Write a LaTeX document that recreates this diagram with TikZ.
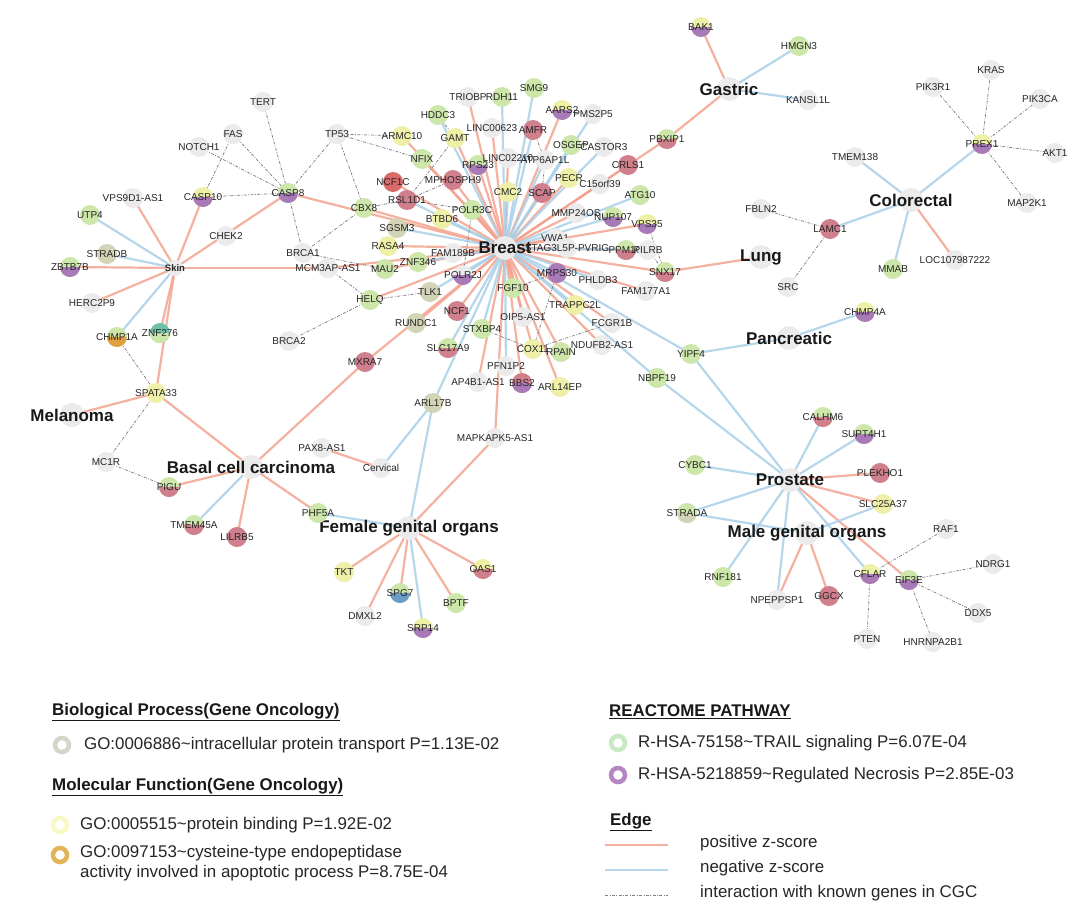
\documentclass[tikz,border=0pt]{standalone}
\usepackage{fontspec}
\setmainfont{Liberation Sans}
\usetikzlibrary{backgrounds}
\definecolor{cgr}{HTML}{EBEBEB}
\definecolor{cgn}{HTML}{CDE6AA}
\definecolor{cyl}{HTML}{EEF0A8}
\definecolor{crd}{HTML}{D07F8C}
\definecolor{crd2}{HTML}{DA6A68}
\definecolor{cpu}{HTML}{A97AB8}
\definecolor{col}{HTML}{D3D4B6}
\definecolor{ctl}{HTML}{6FC0A8}
\definecolor{cor}{HTML}{E0A040}
\definecolor{cbl}{HTML}{6A9CC8}
\definecolor{cpos}{HTML}{F3A490}
\definecolor{cneg}{HTML}{AAD0E8}
\definecolor{ringgr}{HTML}{D4D6C8}
\definecolor{ringyl}{HTML}{F8F8C6}
\definecolor{ringor}{HTML}{E2B458}
\definecolor{ringgn}{HTML}{C9E8C4}
\definecolor{ringpu}{HTML}{B586C4}
\newcommand{\mkg}[5]{\node[nd,#4,label={[lbl]center:#5}] (#1) at (#2,#3) {};}
\newcommand{\mkh}[4]{\node[hub,label={[hublbl]center:#4}] (#1) at (#2,#3) {};}
\tikzset{
  nd/.style={circle, minimum size=20pt, inner sep=0pt, draw=none},
  sgr/.style={fill=cgr}, sgn/.style={fill=cgn}, syl/.style={fill=cyl},
  srd/.style={fill=crd}, spu/.style={fill=cpu}, sol/.style={fill=col},
  tb/.style 2 args={fill=#1, path picture={\fill[#2] (path picture bounding box.west) rectangle (path picture bounding box.south east);}},
  lbl/.style={font=\fontsize{10}{10}\selectfont, text=black!85, inner sep=0pt},
  hub/.style={circle, minimum size=24pt, inner sep=0pt, fill=cgr},
  hublbl/.style={font=\fontsize{17}{17}\selectfont\bfseries, text=black!90, inner sep=0pt},
  posedge/.style={draw=cpos, line width=2.2pt, opacity=0.85},
  negedge/.style={draw=cneg, line width=2.2pt, opacity=0.85},
  cgc/.style={draw=black!50, line width=0.75pt, dash pattern=on 3pt off 1.5pt on 0.8pt off 1.5pt},
  legring/.style={circle, minimum size=14pt, inner sep=0pt, line width=4.5pt, fill=white},
  legtxt/.style={anchor=west, inner sep=0pt, font=\fontsize{16.9}{20}\selectfont, text=black!85, align=left},
  leghead/.style={anchor=west, inner sep=0pt, font=\fontsize{16.9}{20}\selectfont\bfseries, text=black!90},
}
\begin{document}
\begin{tikzpicture}[x=1pt,y=-1pt]
\useasboundingbox (0,0) rectangle (1080,916);
% ---------- hubs
\mkh{Breast}{505}{248}{Breast}
\node[nd,sgr,minimum size=16pt,label={[lbl,font=\fontsize{9.5}{9.5}\selectfont\bfseries]center:Skin}] (Skin) at (175,268) {};
\mkh{Melanoma}{72}{415}{Melanoma}
\mkh{Basal}{251}{467}{Basal cell carcinoma}
\mkh{Female}{409}{528}{Female genital organs}
\mkg{Cervical}{381}{468}{sgr}{Cervical}
\mkh{Gastric}{729}{89}{Gastric}
\mkh{Colorectal}{911}{200}{Colorectal}
\mkh{Lung}{761}{257}{Lung}
\mkh{Pancreatic}{789}{338}{Pancreatic}
\mkh{Prostate}{790}{480}{Prostate}
\mkh{Male}{807}{533}{Male genital organs}
% ---------- skin / left cluster
\mkg{TERT}{263}{102}{sgr}{TERT}
\mkg{FAS}{233}{134}{sgr}{FAS}
\mkg{NOTCH1}{199}{147}{sgr}{NOTCH1}
\mkg{TP53}{337}{134}{sgr}{TP53}
\mkg{CASP10}{203}{197}{tb={cyl}{cpu}}{CASP10}
\mkg{CASP8}{288}{193}{tb={cgn}{cpu}}{CASP8}
\mkg{VPS9D1AS1}{133}{198}{sgr}{VPS9D1-AS1}
\mkg{UTP4}{90}{215}{sgn}{UTP4}
\mkg{CHEK2}{226}{236}{sgr}{CHEK2}
\mkg{STRADB}{107}{254}{sol}{STRADB}
\mkg{ZBTB7B}{70}{267}{tb={cgn}{cpu}}{ZBTB7B}
\mkg{BRCA1}{303}{253}{sgr}{BRCA1}
\mkg{MCM3APAS1}{328}{268}{sgr}{MCM3AP-AS1}
\mkg{CBX8}{364}{208}{sgn}{CBX8}
\mkg{HERC2P9}{92}{303}{sgr}{HERC2P9}
\mkg{CHMP1A}{117}{337}{tb={cgn}{cor}}{CHMP1A}
\mkg{ZNF276}{160}{333}{tb={ctl}{cgn}}{ZNF276}
\mkg{BRCA2}{289}{341}{sgr}{BRCA2}
\mkg{SPATA33}{156}{393}{syl}{SPATA33}
\mkg{MC1R}{106}{462}{sgr}{MC1R}
\mkg{PIGU}{169}{487}{tb={cgn}{crd}}{PIGU}
\mkg{TMEM45A}{194}{525}{tb={cgn}{crd}}{TMEM45A}
\mkg{LILRB5}{237}{537}{srd}{LILRB5}
\mkg{PAX8AS1}{322}{448}{sgr}{PAX8-AS1}
\mkg{PHF5A}{318}{513}{sgn}{PHF5A}
\mkg{MXRA7}{365}{362}{srd}{MXRA7}
% ---------- breast cluster
\mkg{ARMC10}{402}{136}{syl}{ARMC10}
\mkg{GAMT}{455}{138}{syl}{GAMT}
\mkg{NFIX}{422}{159}{sgn}{NFIX}
\mkg{NCF1C}{393}{182}{fill=crd2}{NCF1C}
\mkg{MPHOSPH9}{453}{180}{srd}{MPHOSPH9}
\mkg{RPS23}{478}{165}{tb={cgn}{cpu}}{RPS23}
\mkg{RSL1D1}{407}{200}{srd}{RSL1D1}
\mkg{POLR3C}{472}{210}{sgn}{POLR3C}
\mkg{BTBD6}{442}{219}{syl}{BTBD6}
\mkg{SGSM3}{397}{228}{sol}{SGSM3}
\mkg{RASA4}{388}{246}{syl}{RASA4}
\mkg{FAM189B}{453}{253}{sgr}{FAM189B}
\mkg{ZNF346}{418}{262}{sgn}{ZNF346}
\mkg{MAU2}{385}{269}{sgn}{MAU2}
\mkg{POLR2J}{463}{275}{tb={cgr}{cpu}}{POLR2J}
\mkg{HELQ}{370}{300}{sgn}{HELQ}
\mkg{TLK1}{430}{292}{sol}{TLK1}
\mkg{NCF1}{457}{311}{srd}{NCF1}
\mkg{TRIOBP}{468}{97}{sgr}{TRIOBP}
\mkg{RDH11}{502}{97}{sgn}{RDH11}
\mkg{SMG9}{534}{88}{sgn}{SMG9}
\mkg{AARS2}{562}{110}{tb={cyl}{cpu}}{AARS2}
\mkg{PMS2P5}{593}{114}{sgr}{PMS2P5}
\mkg{HDDC3}{438}{115}{sgn}{HDDC3}
\mkg{LINC00623}{492}{128}{sgr}{LINC00623}
\mkg{AMFR}{533}{130}{srd}{AMFR}
\mkg{OSGEP}{571}{145}{sgn}{OSGEP}
\mkg{CASTOR3}{604}{147}{sgr}{CASTOR3}
\mkg{PBXIP1}{667}{139}{tb={cgn}{crd}}{PBXIP1}
\mkg{LINC02210}{508}{158}{sgr}{LINC02210}
\mkg{ATP6AP1L}{545}{160}{sgr}{ATP6AP1L}
\mkg{CRLS1}{628}{165}{srd}{CRLS1}
\mkg{PECR}{569}{178}{syl}{PECR}
\mkg{C15orf39}{600}{184}{sgr}{C15orf39}
\mkg{CMC2}{508}{192}{syl}{CMC2}
\mkg{SCAP}{542}{193}{srd}{SCAP}
\mkg{ATG10}{640}{195}{sgn}{ATG10}
\mkg{MMP24OS}{576}{213}{sgr}{MMP24OS}
\mkg{NUP107}{613}{217}{tb={cgn}{cpu}}{NUP107}
\mkg{VPS35}{647}{224}{tb={cyl}{cpu}}{VPS35}
\mkg{VWA1}{555}{238}{sgr}{VWA1}
\mkg{STAG}{567}{248}{sgr}{STAG3L5P-PVRIG}
\mkg{PPM1G}{626}{250}{tb={cgn}{crd}}{PPM1G}
\mkg{PILRB}{648}{250}{sgr}{PILRB}
\mkg{SNX17}{665}{272}{tb={cgn}{crd}}{SNX17}
\mkg{MRPS30}{557}{273}{spu}{MRPS30}
\mkg{PHLDB3}{598}{280}{sgr}{PHLDB3}
\mkg{FAM177A1}{646}{291}{sgr}{FAM177A1}
\mkg{FGF10}{513}{288}{sgn}{FGF10}
\mkg{TRAPPC2L}{575}{305}{syl}{TRAPPC2L}
\mkg{FCGR1B}{612}{323}{sgr}{FCGR1B}
\mkg{OIP5AS1}{523}{317}{sgr}{OIP5-AS1}
\mkg{RUNDC1}{416}{323}{sol}{RUNDC1}
\mkg{STXBP4}{482}{329}{sgn}{STXBP4}
\mkg{SLC17A9}{448}{348}{tb={cgn}{crd}}{SLC17A9}
\mkg{COX11}{533}{349}{syl}{COX11}
\mkg{RPAIN}{561}{352}{sgn}{RPAIN}
\mkg{NDUFB2AS1}{602}{345}{sgr}{NDUFB2-AS1}
\mkg{YIPF4}{691}{354}{sgn}{YIPF4}
\mkg{PFN1P2}{506}{366}{sgr}{PFN1P2}
\mkg{AP4B1AS1}{478}{382}{sgr}{AP4B1-AS1}
\mkg{BBS2}{522}{383}{tb={crd}{cpu}}{BBS2}
\mkg{ARL14EP}{560}{387}{syl}{ARL14EP}
\mkg{NBPF19}{657}{378}{sgn}{NBPF19}
\mkg{ARL17B}{433}{403}{sol}{ARL17B}
\mkg{MAPKAPK5AS1}{495}{438}{sgr}{MAPKAPK5-AS1}
% ---------- female
\mkg{TKT}{344}{572}{syl}{TKT}
\mkg{SPG7}{400}{593}{tb={cgn}{cbl}}{SPG7}
\mkg{DMXL2}{365}{616}{sgr}{DMXL2}
\mkg{SRP14}{423}{628}{tb={cyl}{cpu}}{SRP14}
\mkg{BPTF}{456}{603}{sgn}{BPTF}
\mkg{OAS1}{483}{569}{tb={cyl}{crd}}{OAS1}
% ---------- right side
\mkg{BAK1}{701}{27}{tb={cyl}{cpu}}{BAK1}
\mkg{HMGN3}{799}{46}{sgn}{HMGN3}
\mkg{KANSL1L}{808}{100}{sgr}{KANSL1L}
\mkg{KRAS}{991}{70}{sgr}{KRAS}
\mkg{PIK3R1}{933}{87}{sgr}{PIK3R1}
\mkg{PIK3CA}{1040}{99}{sgr}{PIK3CA}
\mkg{PREX1}{982}{144}{tb={cyl}{cpu}}{PREX1}
\mkg{AKT1}{1055}{153}{sgr}{AKT1}
\mkg{TMEM138}{855}{157}{sgr}{TMEM138}
\mkg{MAP2K1}{1027}{203}{sgr}{MAP2K1}
\mkg{FBLN2}{761}{209}{sgr}{FBLN2}
\mkg{LAMC1}{830}{229}{srd}{LAMC1}
\mkg{MMAB}{893}{269}{sgn}{MMAB}
\mkg{LOC}{955}{260}{sgr}{LOC107987222}
\mkg{SRC}{788}{287}{sgr}{SRC}
\mkg{CHMP4A}{865}{312}{tb={cyl}{cpu}}{CHMP4A}
\mkg{CALHM6}{823}{417}{tb={cgn}{crd}}{CALHM6}
\mkg{SUPT4H1}{864}{434}{tb={cgn}{cpu}}{SUPT4H1}
\mkg{CYBC1}{695}{465}{sgn}{CYBC1}
\mkg{PLEKHO1}{880}{473}{srd}{PLEKHO1}
\mkg{SLC25A37}{883}{504}{syl}{SLC25A37}
\mkg{STRADA}{687}{513}{tb={cgn}{col}}{STRADA}
\mkg{RAF1}{946}{529}{sgr}{RAF1}
\mkg{NDRG1}{993}{564}{sgr}{NDRG1}
\mkg{CFLAR}{870}{574}{tb={cyl}{cpu}}{CFLAR}
\mkg{EIF3E}{909}{580}{tb={cgn}{cpu}}{EIF3E}
\mkg{RNF181}{723}{577}{sgn}{RNF181}
\mkg{NPEPPSP1}{777}{600}{sgr}{NPEPPSP1}
\mkg{GGCX}{829}{596}{srd}{GGCX}
\mkg{DDX5}{978}{613}{sgr}{DDX5}
\mkg{PTEN}{867}{639}{sgr}{PTEN}
\mkg{HNRNPA2B1}{933}{642}{sgr}{HNRNPA2B1}
% ---------- edges
\begin{scope}[on background layer]
\fill[white] (0,0) rectangle (1080,916);
\foreach \t in {TRIOBP,AARS2,LINC00623,GAMT,ARMC10,NFIX,LINC02210,RPS23,MPHOSPH9,NCF1C,CRLS1,PECR,C15orf39,SCAP,POLR3C,MMP24OS,VPS35,VWA1,STAG,PPM1G,RASA4,FAM189B,MAU2,FAM177A1,FGF10,HELQ,NCF1,RUNDC1,OIP5AS1,FCGR1B,COX11,RPAIN,NDUFB2AS1,AP4B1AS1,BBS2,ARL14EP,MAPKAPK5AS1,PBXIP1,SNX17,CBX8,CASP8,MCM3APAS1,MXRA7}
  \draw[posedge] (Breast.center) -- (\t.center);
\foreach \t in {RDH11,SMG9,PMS2P5,HDDC3,AMFR,OSGEP,CASTOR3,ATP6AP1L,RSL1D1,CMC2,ATG10,NUP107,BTBD6,SGSM3,PILRB,ZNF346,POLR2J,MRPS30,PHLDB3,TLK1,TRAPPC2L,STXBP4,SLC17A9,PFN1P2,ARL17B,NBPF19,YIPF4}
  \draw[negedge] (Breast.center) -- (\t.center);
\foreach \t in {VPS9D1AS1,ZBTB7B,CASP10,CASP8,MCM3APAS1,HERC2P9,ZNF276,SPATA33}
  \draw[posedge] (Skin.center) -- (\t.center);
\foreach \t in {UTP4,STRADB,CHMP1A}
  \draw[negedge] (Skin.center) -- (\t.center);
\foreach \t in {SPATA33,MXRA7,PIGU,LILRB5,PHF5A}
  \draw[posedge] (Basal.center) -- (\t.center);
\draw[negedge] (Basal.center) -- (TMEM45A.center);
\draw[posedge] (Melanoma.center) -- (SPATA33.center);
\foreach \t in {TKT,SPG7,DMXL2,BPTF,OAS1,MAPKAPK5AS1}
  \draw[posedge] (Female.center) -- (\t.center);
\foreach \t in {PHF5A,ARL17B,SRP14}
  \draw[negedge] (Female.center) -- (\t.center);
\draw[posedge] (Cervical.center) -- (PAX8AS1.center);
\draw[negedge] (Cervical.center) -- (ARL17B.center);
\foreach \t in {BAK1,PBXIP1}
  \draw[posedge] (Gastric.center) -- (\t.center);
\foreach \t in {HMGN3,KANSL1L}
  \draw[negedge] (Gastric.center) -- (\t.center);
\draw[posedge] (Colorectal.center) -- (LOC.center);
\foreach \t in {TMEM138,PREX1,LAMC1,MMAB}
  \draw[negedge] (Colorectal.center) -- (\t.center);
\draw[posedge] (Lung.center) -- (SNX17.center);
\foreach \t in {YIPF4,CHMP4A}
  \draw[negedge] (Pancreatic.center) -- (\t.center);
\foreach \t in {PLEKHO1,SLC25A37,EIF3E}
  \draw[posedge] (Prostate.center) -- (\t.center);
\foreach \t in {CALHM6,SUPT4H1,CYBC1,STRADA,RNF181,NPEPPSP1,CFLAR,YIPF4,NBPF19}
  \draw[negedge] (Prostate.center) -- (\t.center);
\foreach \t in {NPEPPSP1,GGCX}
  \draw[posedge] (Male.center) -- (\t.center);
\foreach \t in {STRADA,SLC25A37}
  \draw[negedge] (Male.center) -- (\t.center);
% CGC interactions
\foreach \a/\b in {TERT/CASP8,FAS/CASP8,FAS/CASP10,NOTCH1/CASP8,TP53/CASP8,CASP10/CASP8,CASP8/BRCA1,TP53/ARMC10,TP53/NFIX,TP53/CBX8,CBX8/BRCA1,CBX8/RSL1D1,BRCA1/MAU2,MCM3APAS1/HELQ,HELQ/BRCA2,HELQ/TLK1,RSL1D1/GAMT,RSL1D1/MPHOSPH9,RSL1D1/POLR3C,POLR3C/POLR2J,GAMT/HDDC3,AMFR/ATP6AP1L,ATP6AP1L/SCAP,MRPS30/FGF10,MRPS30/COX11,STXBP4/COX11,COX11/FCGR1B,PILRB/SNX17,VPS35/SNX17,CHMP1A/SPATA33,SPATA33/MC1R,MC1R/PIGU,PREX1/PIK3R1,PREX1/KRAS,PREX1/PIK3CA,PREX1/AKT1,PREX1/MAP2K1,LAMC1/FBLN2,LAMC1/SRC,CFLAR/RAF1,CFLAR/PTEN,EIF3E/NDRG1,EIF3E/DDX5,EIF3E/HNRNPA2B1}
  \draw[cgc] (\a.center) -- (\b.center);
\end{scope}
% ---------- legend
\node[leghead] (h1) at (52,712) {\underline{Biological Process(Gene Oncology)}};
\node[legring,draw=ringgr] (r1) at (62,745) {};
\node[legtxt] (t1) at (84,745) {GO:0006886\textasciitilde intracellular protein transport P=1.13E-02};
\node[leghead] (h2) at (52,787) {\underline{Molecular Function(Gene Oncology)}};
\node[legring,draw=ringyl] (r2) at (60,825) {};
\node[legtxt] (t2) at (80,825) {GO:0005515\textasciitilde protein binding P=1.92E-02};
\node[legring,draw=ringor] (r3) at (60,855) {};
\node[legtxt,anchor=north west] (t3) at (80,845) {GO:0097153\textasciitilde cysteine-type endopeptidase\\activity involved in apoptotic process P=8.75E-04};
\node[leghead] (h3) at (609,712) {\underline{REACTOME PATHWAY}};
\node[legring,draw=ringgn] (r4) at (618,743) {};
\node[legtxt] (t4) at (638,743) {R-HSA-75158\textasciitilde TRAIL signaling P=6.07E-04};
\node[legring,draw=ringpu] (r5) at (618,775) {};
\node[legtxt] (t5) at (638,775) {R-HSA-5218859\textasciitilde Regulated Necrosis P=2.85E-03};
\node[leghead] (h4) at (610,822) {\underline{Edge}};
\coordinate (e1a) at (605,845); \coordinate (e1b) at (668,845);
\coordinate (e2a) at (605,870); \coordinate (e2b) at (668,870);
\coordinate (e3a) at (605,895); \coordinate (e3b) at (668,895);
\draw[posedge,line width=1.5pt] (e1a) -- (e1b);
\draw[negedge,line width=1.5pt] (e2a) -- (e2b);
\draw[cgc] (e3a) -- (e3b);
\node[legtxt] (t6) at (700,843) {positive z-score};
\node[legtxt] (t7) at (700,868) {negative z-score};
\node[legtxt] (t8) at (700,893) {interaction with known genes in CGC};
\end{tikzpicture}
\end{document}
